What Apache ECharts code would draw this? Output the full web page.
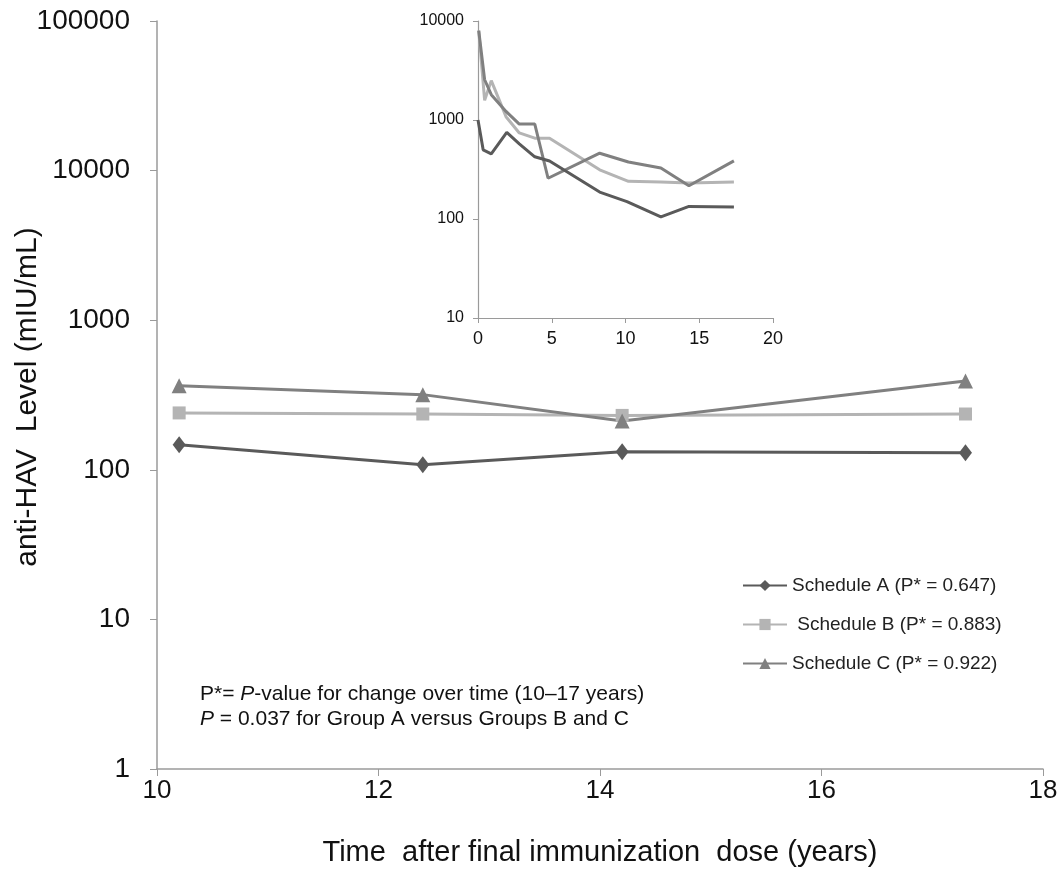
<!DOCTYPE html>
<html>
<head>
<meta charset="utf-8">
<script src="https://cdn.jsdelivr.net/npm/echarts@6/dist/echarts.min.js"></script>
<style>
  html, body { margin: 0; padding: 0; background: #fff; }
  #main { width: 1061px; height: 872px; }
</style>
</head>
<body>
<div id="main"></div>
<script>
// main chart: 10-17 years after final dose
var yearsMain = [10.2, 12.4, 14.2, 17.3]
var schedA = [147, 108, 132, 130]
var schedB = [240, 236, 231, 236]
var schedC = [365, 318, 212, 392]

// inset: whole follow-up 0-17 years
var insetXA = [0, 0.35, 0.9, 1.95, 2.8, 3.85, 4.85, 8.25, 10.1, 12.4, 14.3, 17.35]
var insetA = [1000, 500, 455, 750, 575, 425, 385, 187, 150, 105, 134, 132]
var insetXB = [0.05, 0.45, 0.9, 1.9, 2.8, 3.85, 4.85, 8.25, 10.2, 12.4, 14.3, 17.35]
var insetB = [8000, 1580, 2500, 1080, 740, 655, 655, 314, 240, 236, 231, 236]
var insetXC = [0.05, 0.45, 0.9, 1.9, 2.8, 3.85, 4.75, 8.25, 10.2, 12.4, 14.3, 17.35]
var insetC = [8000, 2550, 1800, 1220, 910, 910, 258, 462, 376, 327, 217, 387]

var yTicksMain = ['1', '10', '100', '1000', '10000', '100000']
var yTicksInset = ['1', '10', '100', '1000', '10000']

var colA = '#5a5a5a'
var colB = '#b4b4b4'
var colC = '#808080'
var axisCol = '#9a9a9a'

function pairs(xs, ys) {
  var out = []
  for (var i = 0; i < xs.length; i++) out.push([xs[i], ys[i]])
  return out
}

function logLabel(list) {
  return function (v) {
    var k = Math.round(Math.log10(v))
    return list[k] || ''
  }
}

var chart = echarts.init(document.getElementById('main'))

var options = {
  backgroundColor: '#ffffff',
  animation: false,
  grid: [
    { left: 157, right: 18, top: 21, bottom: 101 },
    { left: 478, top: 21, width: 295, height: 297 }
  ],
  legend: {
    orient: 'vertical',
    left: 737,
    top: 571,
    itemGap: 20,
    itemWidth: 44,
    itemHeight: 14,
    textStyle: { fontFamily: 'Liberation Sans', fontSize: 19, color: '#222' },
    data: ['Schedule A (P* = 0.647)', ' Schedule B (P* = 0.883)', 'Schedule C (P* = 0.922)']
  },
  xAxis: [{
    gridIndex: 0,
    type: 'value',
    min: 10, max: 18, interval: 2,
    axisLine: { lineStyle: { color: axisCol, width: 1.5 } },
    axisTick: { show: true, length: 7, lineStyle: { color: axisCol } },
    splitLine: { show: false },
    axisLabel: { color: '#111', fontFamily: 'Liberation Sans', fontSize: 26, margin: 9 },
    name: 'Time  after final immunization  dose (years)',
    nameLocation: 'middle',
    nameGap: 69,
    nameTextStyle: { color: '#111', fontFamily: 'Liberation Sans', fontSize: 29 }
  }, {
    gridIndex: 1,
    type: 'value',
    min: 0, max: 20, interval: 5,
    axisLine: { lineStyle: { color: axisCol, width: 1.2 } },
    axisTick: { show: true, length: 5, lineStyle: { color: axisCol } },
    splitLine: { show: false },
    axisLabel: { color: '#111', fontFamily: 'Liberation Sans', fontSize: 18, margin: 12 }
  }],
  yAxis: [{
    gridIndex: 0,
    type: 'log',
    logBase: 10,
    min: 1, max: 100000,
    axisLine: { show: true, lineStyle: { color: axisCol, width: 1.5 } },
    axisTick: { show: true, length: 7, lineStyle: { color: axisCol } },
    splitLine: { show: false },
    axisLabel: {
      color: '#111', fontFamily: 'Liberation Sans', fontSize: 28, margin: 27,
      formatter: logLabel(yTicksMain)
    }
  }, {
    gridIndex: 1,
    type: 'log',
    logBase: 10,
    min: 10, max: 10000,
    axisLine: { show: true, lineStyle: { color: axisCol, width: 1.2 } },
    axisTick: { show: true, length: 5, lineStyle: { color: axisCol } },
    splitLine: { show: false },
    axisLabel: {
      color: '#111', fontFamily: 'Liberation Sans', fontSize: 16, margin: 14,
      formatter: logLabel(yTicksInset)
    }
  }],
  series: [{
    name: 'Schedule A (P* = 0.647)',
    type: 'line',
    xAxisIndex: 0, yAxisIndex: 0,
    data: pairs(yearsMain, schedA),
    symbol: 'diamond', symbolSize: [13, 17],
    lineStyle: { color: colA, width: 3 },
    itemStyle: { color: colA }
  }, {
    name: ' Schedule B (P* = 0.883)',
    type: 'line',
    xAxisIndex: 0, yAxisIndex: 0,
    data: pairs(yearsMain, schedB),
    symbol: 'rect', symbolSize: 13,
    lineStyle: { color: colB, width: 3 },
    itemStyle: { color: colB }
  }, {
    name: 'Schedule C (P* = 0.922)',
    type: 'line',
    xAxisIndex: 0, yAxisIndex: 0,
    data: pairs(yearsMain, schedC),
    symbol: 'triangle', symbolSize: 15,
    lineStyle: { color: colC, width: 3 },
    itemStyle: { color: colC }
  }, {
    name: 'inset B',
    type: 'line',
    xAxisIndex: 1, yAxisIndex: 1,
    data: pairs(insetXB, insetB),
    showSymbol: false,
    lineStyle: { color: colB, width: 3 }
  }, {
    name: 'inset C',
    type: 'line',
    xAxisIndex: 1, yAxisIndex: 1,
    data: pairs(insetXC, insetC),
    showSymbol: false,
    lineStyle: { color: colC, width: 3 }
  }, {
    name: 'inset A',
    type: 'line',
    xAxisIndex: 1, yAxisIndex: 1,
    data: pairs(insetXA, insetA),
    showSymbol: false,
    lineStyle: { color: colA, width: 3 }
  }],
  graphic: [{
    type: 'text',
    rotation: Math.PI / 2,
    x: 28, y: 397,
    style: {
      text: 'anti-HAV  Level (mIU/mL)',
      fontFamily: 'Liberation Sans',
      fontSize: 30,
      fill: '#111',
      textAlign: 'center',
      textVerticalAlign: 'middle'
    }
  }, {
    type: 'text',
    x: 200, y: 682,
    style: {
      rich: {
        n: { fontFamily: 'Liberation Sans', fontSize: 21, fill: '#111', lineHeight: 25 },
        i: { fontFamily: 'Liberation Sans', fontSize: 21, fontStyle: 'italic', fill: '#111', lineHeight: 25 }
      },
      text: '{n|P*= }{i|P}{n|-value for change over time (10\u201317 years)}\n{i|P}{n| = 0.037 for Group A versus Groups B and C}'
    }
  }]
}

chart.setOption(options)
</script>
</body>
</html>
